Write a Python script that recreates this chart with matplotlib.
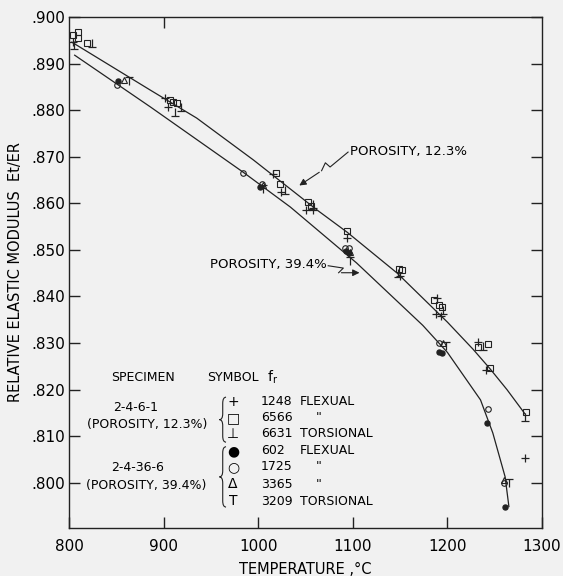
import numpy as np
import matplotlib.pyplot as plt
from matplotlib.path import Path
from matplotlib.patches import PathPatch

# fitted curves as drawn on the chart (temperature C, Et/ER)
t_hi = [803, 886, 935, 995, 1062, 1094, 1147, 1200, 1227, 1245, 1263, 1282]
e_hi = [.8946, .8843, .8783, .8693, .8586, .8538, .8450, .8345, .8287, .8245, .8200, .8148]
t_lo = [806, 886, 984, 1034, 1104, 1174, 1200, 1235, 1248, 1261, 1265]
e_lo = [.8918, .8807, .8667, .8592, .8472, .8338, .8280, .8178, .8107, .8013, .7949]

# specimen 2-4-6-1 (porosity 12.3%)
plus_t = [804, 902, 905, 1016, 1024, 1050, 1058, 1094, 1150, 1189, 1188, 1193, 1232, 1241, 1282]
plus_e = [.8946, .8826, .8807, .8663, .8624, .8586, .8586, .8526, .8444, .8397, .8363, .8358, .8303, .8242, .8054]
sq_t = [804, 810, 810, 819, 907, 910, 914, 1019, 1023, 1053, 1056, 1094, 1149, 1152, 1186, 1191, 1194,
        1232, 1243, 1245, 1283]
sq_e = [.8961, .8968, .8955, .8944, .8822, .8818, .8815, .8665, .8642, .8603, .8594, .8541, .8459, .8457,
        .8393, .8382, .8378, .8292, .8298, .8247, .8152]
perp_t = [805, 824, 912, 918, 1028, 1058, 1148, 1195, 1238, 1282]
perp_e = [.8940, .8944, .8796, .8807, .8629, .8599, .8451, .8371, .8294, .8142]

# specimen 2-4-36-6 (porosity 39.4%)
dot_t = [852, 1002, 1093, 1096, 1191, 1194, 1242, 1261]
dot_e = [.8863, .8635, .8498, .8494, .8281, .8279, .8129, .7949]
circ_t = [851, 984, 1004, 1092, 1096, 1191, 1243, 1260]
circ_e = [.8854, .8665, .8642, .8504, .8504, .8300, .8159, .8000]
tri_t = [858, 1005, 1097, 1195, 1260]
tri_e = [.8865, .8640, .8496, .8300, .8006]
tee_t = [863, 1005, 1097, 1198, 1265]
tee_e = [.8863, .8631, .8476, .8294, .8000]

x_ticks = [800, 900, 1000, 1100, 1200, 1300]
y_ticks = [.800, .810, .820, .830, .840, .850, .860, .870, .880, .890, .900]

legend_rows = [("+", "1248", "FLEXUAL"), ("\u25a1", "6566", '"'), ("\u22a5", "6631", "TORSIONAL"),
               ("\u25cf", "602", "FLEXUAL"), ("\u25cb", "1725", '"'), ("\u0394", "3365", '"'),
               ("T", "3209", "TORSIONAL")]

bg = "#f1f1f1"
ink = "#222222"

# line-only markers for the perp and T symbols
perp = Path([(0, -0.5), (0, 0.5), (-0.5, -0.5), (0.5, -0.5)],
            [Path.MOVETO, Path.LINETO, Path.MOVETO, Path.LINETO])
tee = Path([(0, -0.5), (0, 0.5), (-0.5, 0.5), (0.5, 0.5)],
           [Path.MOVETO, Path.LINETO, Path.MOVETO, Path.LINETO])

fig = plt.figure(figsize=(5.63, 5.76), dpi=100, facecolor=bg)
ax = fig.add_axes([69 / 563, 48 / 576, 473 / 563, 511 / 576], facecolor=bg)

ax.plot(t_hi, e_hi, color=ink, lw=0.9)
ax.plot(t_lo, e_lo, color=ink, lw=0.9)

ax.plot(plus_t, plus_e, ls="none", marker="+", ms=6, mew=0.9, color=ink)
ax.plot(sq_t, sq_e, ls="none", marker="s", ms=4.2, mew=0.8, mfc="none", color=ink)
ax.plot(perp_t, perp_e, ls="none", marker=perp, ms=6, mew=0.9, mfc="none", color=ink)
ax.plot(dot_t, dot_e, ls="none", marker="o", ms=3.6, color=ink)
ax.plot(circ_t, circ_e, ls="none", marker="o", ms=4, mew=0.8, mfc="none", color=ink)
ax.plot(tri_t, tri_e, ls="none", marker="^", ms=4.2, mew=0.8, mfc="none", color=ink)
ax.plot(tee_t, tee_e, ls="none", marker=tee, ms=6, mew=0.9, mfc="none", color=ink)

ax.set_xlim(800, 1300)
ax.set_ylim(0.7903, 0.900)
ax.set_xticks(x_ticks)
ax.set_xticklabels([str(v) for v in x_ticks], fontsize=11)
ax.set_yticks(y_ticks)
ax.set_yticklabels([("%.3f" % v)[1:] for v in y_ticks], fontsize=11)
ax.tick_params(direction="in", length=8, width=1, color=ink, right=True)
ax.tick_params(axis="x", pad=8)
ax.tick_params(axis="y", pad=3)
top = ax.secondary_xaxis("top")
top.set_xticks([900])
top.set_xticklabels([])
top.tick_params(direction="in", length=8, width=1, color=ink)
top.spines["top"].set_visible(False)
for s in ax.spines.values():
    s.set_color(ink)
    s.set_linewidth(1)

ax.set_xlabel("TEMPERATURE ,\u00b0C", fontsize=10.5, labelpad=6)
ax.set_ylabel("RELATIVE ELASTIC MODULUS  Et/ER", fontsize=10.5, labelpad=6)

# curve labels with zig-zag leaders
ax.text(1097, .8712, "POROSITY, 12.3%", fontsize=9.5, va="center", ha="left")
lead_hi_t = [1095, 1076, 1071, 1067]
lead_hi_e = [.8710, .8678, .8687, .8670]
ax.plot(lead_hi_t, lead_hi_e, color=ink, lw=0.8)
ax.annotate("", xy=(1041, .8635), xytext=(1067, .8670),
            arrowprops=dict(arrowstyle="-|>", color=ink, lw=0.8, mutation_scale=10))

ax.text(1072, .8468, "POROSITY, 39.4%", fontsize=9.5, va="center", ha="right")
lead_lo_t = [1074, 1090, 1085]
lead_lo_e = [.8466, .8461, .8451]
ax.plot(lead_lo_t, lead_lo_e, color=ink, lw=0.8)
ax.annotate("", xy=(1110, .8451), xytext=(1085, .8451),
            arrowprops=dict(arrowstyle="-|>", color=ink, lw=0.8, mutation_scale=10))

# symbol table
fs = 9
tr = ax.transAxes
ax.text(0.156, 0.294, "SPECIMEN", fontsize=fs, ha="center", va="center", transform=tr)
ax.text(0.347, 0.294, "SYMBOL", fontsize=fs, ha="center", va="center", transform=tr)
ax.text(0.431, 0.294, "f$_\\mathregular{r}$", fontsize=fs + 1, ha="center", va="center", transform=tr)
row_y = [0.2466, 0.2153, 0.1840, 0.1507, 0.1194, 0.0861, 0.0528]
for (sym, fr, kind), y in zip(legend_rows, row_y):
    ax.text(0.347, y, sym, fontsize=fs + 1, ha="center", va="center", transform=tr)
    ax.text(0.406, y, fr, fontsize=fs, ha="left", va="center", transform=tr)
    if kind == '"':
        ax.text(0.528, y, kind, fontsize=fs, ha="center", va="center", transform=tr)
    else:
        ax.text(0.488, y, kind, fontsize=fs, ha="left", va="center", transform=tr)
ax.text(0.140, 0.235, "2-4-6-1", fontsize=fs, ha="center", va="center", transform=tr)
ax.text(0.165, 0.2016, "(POROSITY, 12.3%)", fontsize=fs, ha="center", va="center", transform=tr)
ax.text(0.145, 0.119, "2-4-36-6", fontsize=fs, ha="center", va="center", transform=tr)
ax.text(0.163, 0.0841, "(POROSITY, 39.4%)", fontsize=fs, ha="center", va="center", transform=tr)


def brace(x, y0, y1, w=0.014):
    ym = 0.5 * (y0 + y1)
    k = 0.012
    verts = [(x + w, y1), (x + w / 2, y1), (x + w / 2, y1 - k),
             (x + w / 2, ym + k), (x + w / 2, ym), (x, ym),
             (x + w / 2, ym), (x + w / 2, ym - k),
             (x + w / 2, y0 + k), (x + w / 2, y0), (x + w, y0)]
    codes = [Path.MOVETO, Path.CURVE3, Path.CURVE3,
             Path.LINETO, Path.CURVE3, Path.CURVE3,
             Path.CURVE3, Path.CURVE3,
             Path.LINETO, Path.CURVE3, Path.CURVE3]
    ax.add_patch(PathPatch(Path(verts, codes), fc="none", ec=ink, lw=0.8, transform=tr))


brace(0.318, 0.168, 0.256)
brace(0.318, 0.041, 0.159)

fig.savefig("out.png", dpi=100, facecolor=bg)
